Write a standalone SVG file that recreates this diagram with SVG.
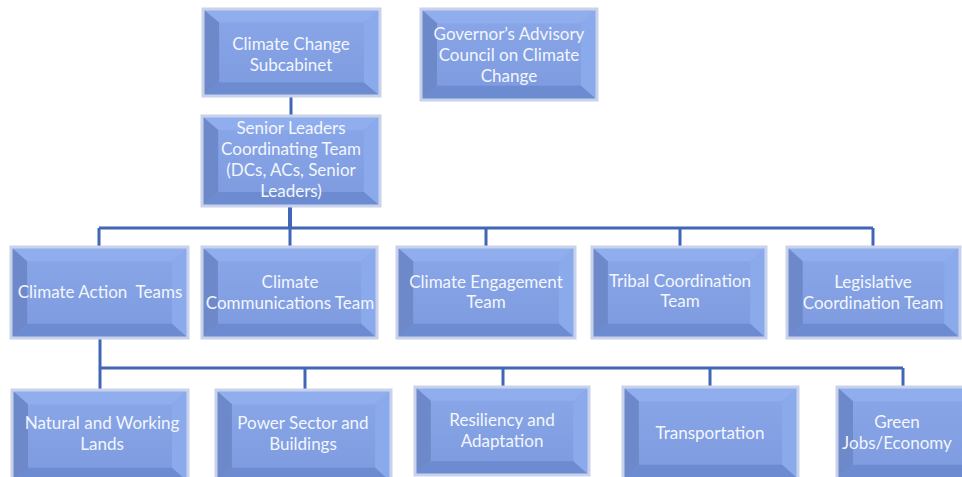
<svg xmlns="http://www.w3.org/2000/svg" xmlns:xlink="http://www.w3.org/1999/xlink" width="962" height="477" viewBox="0 0 962 477">
<style>
.t{font-family:Lato,"Open Sans","Liberation Sans",sans-serif;font-size:17px;fill:#f3f6fd;text-anchor:middle}
.bd{fill:none;stroke:#c8d2ea;stroke-width:3}
.ln{fill:none;stroke:#4266b6;stroke-width:3}
</style>
<defs>
<linearGradient id="fg" x1="0" y1="0" x2="0" y2="1">
<stop offset="0" stop-color="#89a7e9"/>
<stop offset="1" stop-color="#7c9add"/>
</linearGradient>
<symbol id="bev" viewBox="0 0 176 90" preserveAspectRatio="none">
<rect x="0" y="0" width="176" height="90" fill="url(#fg)"/>
<polygon points="0,0 176,0 160,14 16,14" fill="#90aeee"/>
<polygon points="0,0 16,14 16,76 0,90" fill="#6e89c9"/>
<polygon points="176,0 176,90 160,76 160,14" fill="#8baaec"/>
<polygon points="0,90 16,76 160,76 176,90" fill="#6d8bd0"/>
</symbol>
</defs>
<rect width="962" height="477" fill="#ffffff"/>
<g id="connectors">
<path class="ln" d="M291,96 V116"/>
<path class="ln" d="M290,206 V228" style="stroke-width:4"/>
<path class="ln" d="M99,228 H873"/>
<path class="ln" d="M99,228 V247 M290,228 V247 M486,228 V247 M680,228 V247 M873,228 V247"/>
<path class="ln" d="M100,338 V390"/>
<path class="ln" d="M100,368 H903"/>
<path class="ln" d="M305,368 V390 M503,368 V387 M710,368 V387 M903,368 V387"/>
</g>
<g id="subcabinet">
<use xlink:href="#bev" x="203" y="9" width="177" height="87"/>
<rect class="bd" x="203" y="9" width="177" height="87"/>
<text class="t" x="291" y="50">Climate Change</text>
<text class="t" x="291" y="71">Subcabinet</text>
</g>
<g id="governor">
<use xlink:href="#bev" x="421" y="9" width="176" height="91"/>
<rect class="bd" x="421" y="9" width="176" height="91"/>
<text class="t" x="509" y="40">Governor’s Advisory</text>
<text class="t" x="509" y="61">Council on Climate</text>
<text class="t" x="509" y="82">Change</text>
</g>
<g id="senior">
<use xlink:href="#bev" x="202" y="116" width="178" height="90"/>
<rect class="bd" x="202" y="116" width="178" height="90"/>
<text class="t" x="291" y="134">Senior Leaders</text>
<text class="t" x="291" y="155">Coordinating Team</text>
<text class="t" x="291" y="176">(DCs, ACs, Senior</text>
<text class="t" x="291" y="197">Leaders)</text>
</g>
<g id="action">
<use xlink:href="#bev" x="11" y="247" width="177" height="91"/>
<rect class="bd" x="11" y="247" width="177" height="91"/>
<text class="t" x="100" y="298" xml:space="preserve">Climate Action  Teams</text>
</g>
<g id="communications">
<use xlink:href="#bev" x="202" y="247" width="175" height="91"/>
<rect class="bd" x="202" y="247" width="175" height="91"/>
<text class="t" x="290" y="288">Climate</text>
<text class="t" x="290" y="309">Communications Team</text>
</g>
<g id="engagement">
<use xlink:href="#bev" x="397" y="247" width="178" height="91"/>
<rect class="bd" x="397" y="247" width="178" height="91"/>
<text class="t" x="486" y="288">Climate Engagement</text>
<text class="t" x="486" y="308">Team</text>
</g>
<g id="tribal">
<use xlink:href="#bev" x="592" y="247" width="174" height="91"/>
<rect class="bd" x="592" y="247" width="174" height="91"/>
<text class="t" x="680" y="287">Tribal Coordination</text>
<text class="t" x="680" y="307">Team</text>
</g>
<g id="legislative">
<use xlink:href="#bev" x="787" y="247" width="173" height="91"/>
<rect class="bd" x="787" y="247" width="173" height="91"/>
<text class="t" x="873" y="288">Legislative</text>
<text class="t" x="873" y="309">Coordination Team</text>
</g>
<g id="natural">
<use xlink:href="#bev" x="12" y="390" width="176" height="92"/>
<rect class="bd" x="12" y="390" width="176" height="92"/>
<text class="t" x="102" y="429">Natural and Working</text>
<text class="t" x="102" y="450">Lands</text>
</g>
<g id="power">
<use xlink:href="#bev" x="216" y="390" width="175" height="92"/>
<rect class="bd" x="216" y="390" width="175" height="92"/>
<text class="t" x="303" y="429">Power Sector and</text>
<text class="t" x="303" y="450">Buildings</text>
</g>
<g id="resiliency">
<use xlink:href="#bev" x="415" y="387" width="174" height="88"/>
<rect class="bd" x="415" y="387" width="174" height="88"/>
<text class="t" x="502" y="426">Resiliency and</text>
<text class="t" x="502" y="447">Adaptation</text>
</g>
<g id="transportation">
<use xlink:href="#bev" x="623" y="387" width="175" height="92"/>
<rect class="bd" x="623" y="387" width="175" height="92"/>
<text class="t" x="710" y="439">Transportation</text>
</g>
<g id="green">
<use xlink:href="#bev" x="837" y="387" width="176" height="92"/>
<rect class="bd" x="837" y="387" width="176" height="92"/>
<text class="t" x="897" y="428">Green</text>
<text class="t" x="897" y="449">Jobs/Economy</text>
</g>
</svg>
